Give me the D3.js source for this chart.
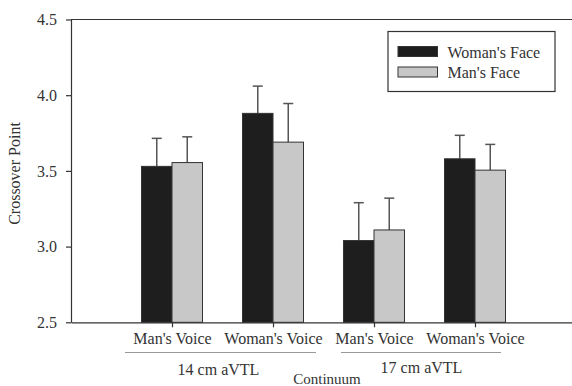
<!DOCTYPE html>
<html>
<head>
<meta charset="utf-8">
<script src="https://cdn.jsdelivr.net/npm/d3@7"></script>
<style>
  body { margin: 0; background: #fff; }
  svg text { font-family: "Liberation Serif", "Times New Roman", "DejaVu Serif", serif !important; fill: #333; }
</style>
</head>
<body>
<svg width="572" height="386"></svg>
<script>
// data
const groups = ["Man's Voice", "Woman's Voice", "Man's Voice", "Woman's Voice"];
const series = ["Woman's Face", "Man's Face"];
const womansFace = [3.53, 3.88, 3.04, 3.58];
const womansFaceErr = [0.185, 0.18, 0.25, 0.155];
const mansFace = [3.555, 3.69, 3.11, 3.505];
const mansFaceErr = [0.17, 0.255, 0.21, 0.17];
const yTicks = [2.5, 3.0, 3.5, 4.0, 4.5];
const continua = ["14 cm aVTL", "17 cm aVTL"];

const colors = ["#1e1e1e", "#c8c8c8"];
const serifFont = "'Liberation Serif', 'Times New Roman', 'DejaVu Serif', serif";

const svg = d3.select("svg");

// plot area
const plotLeft = 71, plotTop = 19.5, plotBottom = 322.3;
const x = d3.scaleLinear().domain([0, 5]).range([plotLeft, 576]);
const y = d3.scaleLinear().domain([2.5, 4.5]).range([plotBottom, plotTop]);
const barW = 30.5;

// frame line on top
svg.append("line")
  .attr("x1", plotLeft).attr("x2", 576)
  .attr("y1", y(4.5)).attr("y2", y(4.5))
  .attr("stroke", "#333").attr("stroke-width", 1.2);

// bars
const rows = groups.map((g, i) => ({
  i: i + 1,
  vals: [
    { s: 0, v: womansFace[i], e: womansFaceErr[i] },
    { s: 1, v: mansFace[i], e: mansFaceErr[i] }
  ]
}));

const gBars = svg.append("g");
rows.forEach(r => {
  r.vals.forEach(d => {
    const bx = d.s === 0 ? x(r.i) - barW : x(r.i);
    const cx = bx + barW / 2;
    // error bar (up only)
    gBars.append("line")
      .attr("x1", cx).attr("x2", cx)
      .attr("y1", y(d.v)).attr("y2", y(d.v + d.e))
      .attr("stroke", "#555").attr("stroke-width", 1.5);
    gBars.append("line")
      .attr("x1", cx - 5).attr("x2", cx + 5)
      .attr("y1", y(d.v + d.e)).attr("y2", y(d.v + d.e))
      .attr("stroke", "#555").attr("stroke-width", 1.5);
    gBars.append("rect")
      .attr("x", bx).attr("y", y(d.v))
      .attr("width", barW).attr("height", y(2.5) - y(d.v))
      .attr("fill", colors[d.s])
      .attr("stroke", "#333").attr("stroke-width", 1);
  });
});

// y axis
const yAxis = svg.append("g")
  .attr("transform", `translate(${plotLeft},0)`)
  .call(d3.axisLeft(y).tickValues(yTicks).tickFormat(d3.format(".1f"))
    .tickSize(5).tickPadding(9).tickSizeOuter(0));
yAxis.attr("font-family", serifFont);
yAxis.select(".domain").attr("stroke", "#333").attr("stroke-width", 1.2);
yAxis.selectAll(".tick line").attr("stroke", "#333").attr("stroke-width", 1.2);
yAxis.selectAll("text").attr("font-size", 16).attr("fill", "#333");

// x axis
const xAxis = svg.append("g")
  .attr("transform", `translate(0,${plotBottom})`)
  .call(d3.axisBottom(x).tickValues([1, 2, 3, 4]).tickFormat((d, i) => groups[i])
    .tickSize(5).tickPadding(5).tickSizeOuter(0));
xAxis.attr("font-family", serifFont);
xAxis.select(".domain").attr("stroke", "#333").attr("stroke-width", 1.2);
xAxis.selectAll(".tick line").attr("stroke", "#333").attr("stroke-width", 1.2);
xAxis.selectAll("text").attr("font-size", 16).attr("fill", "#333");

// continuum group labels with underlines
const spans = [[x(1) - 47, x(2) + 43], [x(3) - 33, x(4) + 26]];
continua.forEach((c, i) => {
  svg.append("line")
    .attr("x1", spans[i][0]).attr("x2", spans[i][1])
    .attr("y1", 352.5).attr("y2", 352.5)
    .attr("stroke", "#999").attr("stroke-width", 1.2);
  svg.append("text")
    .attr("x", i === 0 ? x(1.46) : x(3.47))
    .attr("y", i === 0 ? 375 : 373)
    .attr("text-anchor", "middle")
    .attr("font-size", 16)
    .text(c);
});

svg.append("text")
  .attr("x", 327).attr("y", 384)
  .attr("text-anchor", "middle")
  .attr("font-size", 15)
  .text("Continuum");

svg.append("text")
  .attr("transform", "translate(20,173.5) rotate(-90)")
  .attr("text-anchor", "middle")
  .attr("font-size", 16)
  .text("Crossover Point");

// legend
const lg = svg.append("g").attr("transform", "translate(388,31.5)");
lg.append("rect")
  .attr("width", 167).attr("height", 60)
  .attr("fill", "#fff").attr("stroke", "#333").attr("stroke-width", 1.2);
series.forEach((s, i) => {
  lg.append("rect")
    .attr("x", 10).attr("y", 15 + i * 20.5)
    .attr("width", 39.5).attr("height", 10)
    .attr("fill", colors[i]).attr("stroke", "#333").attr("stroke-width", 1);
  lg.append("text")
    .attr("x", 59.5).attr("y", 26 + i * 20.5)
    .attr("font-size", 16)
    .text(s);
});
</script>
</body>
</html>
